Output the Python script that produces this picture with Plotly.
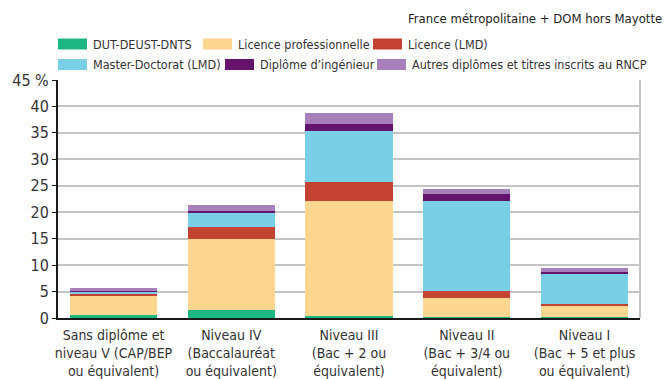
import plotly.graph_objects as go

# Niveaux de formation (axe des abscisses)
categories = [
    "Sans diplôme et<br>niveau V (CAP/BEP<br>ou équivalent)",
    "Niveau IV<br>(Baccalauréat<br>ou équivalent)",
    "Niveau III<br>(Bac + 2 ou<br>équivalent)",
    "Niveau II<br>(Bac + 3/4 ou<br>équivalent)",
    "Niveau I<br>(Bac + 5 et plus<br>ou équivalent)",
]

# Part (%) par type de diplôme préparé
dut_deust_dnts = [0.5, 1.5, 0.4, 0.1, 0.2]
licence_pro = [3.6, 13.4, 21.8, 3.65, 2.05]
licence_lmd = [0.4, 2.25, 3.6, 1.3, 0.4]
master_doctorat = [0.5, 2.8, 9.6, 17.1, 5.65]
diplome_ingenieur = [0.05, 0.2, 1.3, 1.35, 0.4]
autres_rncp = [0.6, 1.3, 2.1, 0.95, 0.75]

series = [
    ("DUT-DEUST-DNTS", dut_deust_dnts, "#1db784"),
    ("Licence professionnelle", licence_pro, "#fdd68f"),
    ("Licence (LMD)", licence_lmd, "#c34232"),
    ("Master-Doctorat (LMD)", master_doctorat, "#79cfe6"),
    ("Diplôme d’ingénieur", diplome_ingenieur, "#65146e"),
    ("Autres diplômes et titres inscrits au RNCP", autres_rncp, "#a77fbb"),
]

y_ticks = [0, 5, 10, 15, 20, 25, 30, 35, 40, 45]
y_tick_text = ["0", "5", "10", "15", "20", "25", "30", "35", "40", "45 %"]

FONT = "DejaVu Sans Condensed, Liberation Sans Narrow, sans-serif"
W, H = 666, 379
L, R, T, B = 58, 640, 80, 318  # plot area in pixels

fig = go.Figure()
for name, vals, color in series:
    fig.add_trace(go.Bar(
        x=list(range(len(categories))), y=vals, name=name,
        marker=dict(color=color, line=dict(width=0)),
        showlegend=False,
    ))


def px_x(p):
    return (p - L) / (R - L)


def px_y(p):
    return (B - p) / (B - T)


shapes = []
annotations = []

# Legend drawn as wide swatches with labels, two rows
legend_rows = [
    [(0, 58), (1, 203), (2, 373)],
    [(3, 58), (4, 225), (5, 377)],
]
row_y = [44, 64.5]
for r, row in enumerate(legend_rows):
    cy = row_y[r]
    for idx, x0 in row:
        name, _, color = series[idx]
        shapes.append(dict(
            type="rect", xref="paper", yref="paper",
            x0=px_x(x0), x1=px_x(x0 + 29),
            y0=px_y(cy + 5.5), y1=px_y(cy - 5.5),
            fillcolor=color, line=dict(width=0), layer="above",
        ))
        annotations.append(dict(
            text=name, xref="paper", yref="paper",
            x=px_x(x0 + 33), y=px_y(cy), xanchor="left", yanchor="middle",
            showarrow=False, font=dict(family=FONT, size=12.5, color="#333333"),
        ))

# Right frame border
shapes.append(dict(
    type="line", xref="paper", yref="paper", x0=1, x1=1, y0=0, y1=1,
    line=dict(color="#c8c8c8", width=2), layer="below",
))

annotations.append(dict(
    text="France métropolitaine + DOM hors Mayotte",
    xref="paper", yref="paper", x=px_x(664), y=px_y(18),
    xanchor="right", yanchor="middle", showarrow=False,
    font=dict(family=FONT, size=13, color="#222222"),
))

span = (R - L) / 117.75
fig.update_layout(
    width=W, height=H,
    margin=dict(l=L, r=W - R, t=T, b=H - B, pad=0, autoexpand=False),
    barmode="stack", bargap=0.261,
    plot_bgcolor="white", paper_bgcolor="white",
    font=dict(family=FONT, size=14, color="#333333"),
    shapes=shapes, annotations=annotations,
    xaxis=dict(
        tickmode="array", tickvals=list(range(len(categories))),
        ticktext=categories, range=[-span / 2 + 2, span / 2 + 2],
        showline=True, linecolor="#1a1a1a", linewidth=2,
        ticks="", showgrid=False, zeroline=False, automargin=False,
        ticklabelstandoff=3,
        tickfont=dict(family=FONT, size=14, color="#333333"),
        fixedrange=True,
    ),
    yaxis=dict(
        range=[0, 45], tickmode="array", tickvals=y_ticks, ticktext=y_tick_text,
        showline=True, linecolor="#1a1a1a", linewidth=2,
        ticks="outside", ticklen=4, tickcolor="#1a1a1a", tickwidth=1,
        showgrid=True, gridcolor="#c4c4c4", gridwidth=1.5,
        zeroline=False, automargin=False,
        tickfont=dict(family=FONT, size=16, color="#333333"),
        fixedrange=True,
    ),
)

fig.write_html("out.html")
